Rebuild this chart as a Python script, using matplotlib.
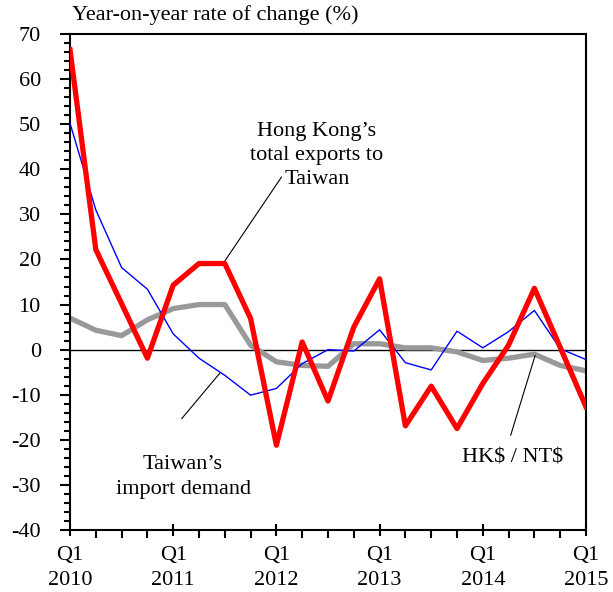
import matplotlib.pyplot as plt
from matplotlib.ticker import MultipleLocator

# ============================================================
# DATA (quarterly, Q1 2010 - Q1 2015)
# ============================================================

quarters = list(range(21))

hk_exports = [66.5, 22.2, 10.2, -1.9, 14.3, 19.1, 19.1, 6.9,
              -21.2, 1.7, -11.4, 5.0, 15.7, -16.9, -8.1, -17.5,
              -7.5, 1.0, 13.6, 0.5, -12.7]

tw_import = [50.2, 31.0, 18.2, 13.4, 3.5, -1.9, -5.7, -10.1,
             -8.6, -3.1, 0.0, -0.3, 4.4, -2.9, -4.5, 4.1,
             0.4, 4.0, 8.7, 0.2, -2.2]

hkd_ntd = [7.0, 4.3, 3.1, 6.6, 9.1, 10.0, 10.0, 1.0,
           -2.7, -3.5, -3.7, 1.3, 1.3, 0.4, 0.4, -0.5,
           -2.4, -1.9, -1.0, -3.5, -4.7]

tick_labels = ["Q1\n2010", "Q1\n2011", "Q1\n2012",
               "Q1\n2013", "Q1\n2014", "Q1\n2015"]

# ============================================================
# FIGURE
# ============================================================

plt.rcParams["font.family"] = ["Liberation Serif", "DejaVu Serif"]
plt.rcParams["font.size"] = 16
plt.rcParams["axes.unicode_minus"] = False

fig = plt.figure(figsize=(6.13, 5.92), dpi=100)
ax = fig.add_axes([70 / 613, 62 / 592, 516 / 613, 496 / 592])

ax.axhline(0, color="black", linewidth=1.0, zorder=1)

ax.plot(quarters, hkd_ntd, color="#999999", linewidth=3.8, zorder=2)
ax.plot(quarters, tw_import, color="#0000FF", linewidth=1.0, zorder=3)
ax.plot(quarters, hk_exports, color="#FF0000", linewidth=3.8, zorder=4)

ax.set_xlim(0, 20)
ax.set_ylim(-40, 70)

ax.set_xticks(range(0, 21, 4))
ax.set_xticklabels(tick_labels, linespacing=1.4)
ax.xaxis.set_minor_locator(MultipleLocator(1))
ax.yaxis.set_major_locator(MultipleLocator(10))
ax.yaxis.set_minor_locator(MultipleLocator(2))

ax.tick_params(axis="x", which="major", direction="inout", length=9,
               width=1.5, pad=7)
ax.tick_params(axis="x", which="minor", direction="out", length=6,
               width=1.5)
ax.tick_params(axis="y", which="major", direction="out", length=7,
               width=1.5, pad=14)
ax.tick_params(axis="y", which="minor", direction="out", length=4,
               width=1.5)

for side in ["left", "bottom", "top", "right"]:
    ax.spines[side].set_linewidth(1.5)

fig.text(72 / 613, 1 - 15 / 592, "Year-on-year rate of change (%)",
         ha="left", va="center", fontsize=16)

# ============================================================
# ANNOTATIONS
# ============================================================

ax.text(9.57, 43.1, "Hong Kong\u2019s\ntotal exports to\nTaiwan",
        ha="center", va="center", fontsize=16, linespacing=1.37)
ax.annotate("", xy=(5.97, 19.4), xytext=(8.2, 38.3),
            arrowprops=dict(arrowstyle="-", color="black", lw=0.8,
                            shrinkA=0, shrinkB=0))

ax.text(4.38, -28.2, "Taiwan\u2019s\nimport demand",
        ha="center", va="center", fontsize=16, linespacing=1.4)
ax.annotate("", xy=(5.81, -5.2), xytext=(4.33, -15.3),
            arrowprops=dict(arrowstyle="-", color="black", lw=0.8,
                            shrinkA=0, shrinkB=0))

ax.text(17.17, -24.0, "HK\\$ / NT\\$",
        ha="center", va="center", fontsize=16)
ax.annotate("", xy=(18.03, -1.26), xytext=(17.08, -19.0),
            arrowprops=dict(arrowstyle="-", color="black", lw=0.8,
                            shrinkA=0, shrinkB=0))

fig.savefig("out.png", dpi=100)
